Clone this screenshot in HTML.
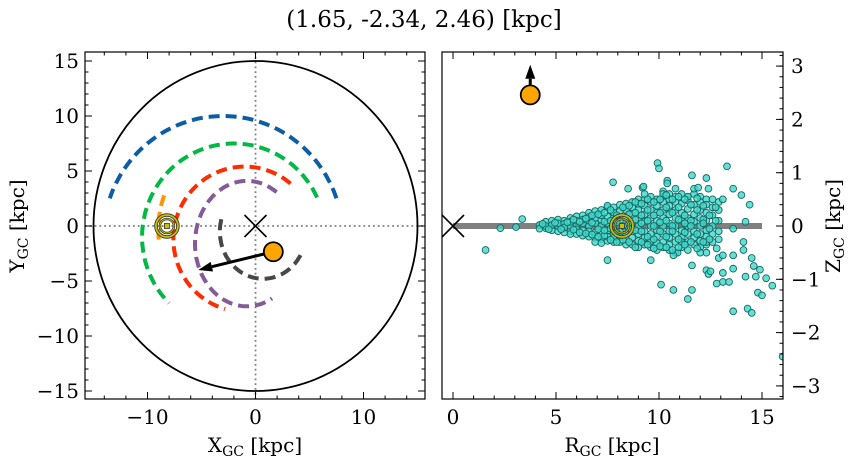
<!DOCTYPE html>
<html><head><meta charset="utf-8"><style>
html,body{margin:0;padding:0;background:#fff;}
svg{display:block;font-family:"DejaVu Serif","Liberation Serif",serif;}
</style></head><body>
<svg id="chart" width="854" height="464" viewBox="0 0 854 464" xmlns="http://www.w3.org/2000/svg">
<text x="424" y="27" font-size="23" text-anchor="middle">(1.65, -2.34, 2.46) [kpc]</text>
</svg>
<script>
// ---- data ----
var xyTicks = [-10, 0, 10];
var yTicksL = [-15, -10, -5, 0, 5, 10, 15];
var rTicks = [0, 5, 10, 15];
var zTicks = [-3, -2, -1, 0, 1, 2, 3];
var diskRadius = 15;
var sunXY = [-8.2, 0];
var objXY = [1.65, -2.34];
var objArrowXY = [-5.3, -4.0];
var objRZ = [3.75, 2.46];
var objArrowRZ = [3.75, 2.95];
var sunRZ = [8.2, 0];
var planeR = [0, 15];
// orbit arcs: cx, cy, rx, ry, startDeg, endDeg
var arcColors = ['#0c5da5', '#00b945', '#ff2c00', '#845b97', '#474747', '#ff9500'];
var arcCx = [-3, -2, -1, -0.8, 0.7, 0];
var arcCy = [-1.1, -1, -1.2, -1.6, -0.5, -0.3];
var arcRx = [11.1, 8.5, 6.6, 4.8, 4.0, 9.0];
var arcRy = [11.1, 8.5, 6.6, 5.7, 4.3, 9.0];
var arcStart = [19, 25, 50, 55, 165, 160];
var arcEnd = [161, 225, 254, 300, 335, 187];
// scatter points R,z
var starsR = "4.2,4.2,4.5,4.5,4.5,4.8,4.8,4.8,5.1,5.1,5.1,5.1,5.4,5.4,5.4,5.4,5.7,5.7,5.7,5.7,5.7,6.0,6.0,6.0,6.0,6.0,6.3,6.3,6.3,6.3,6.3,6.6,6.6,6.6,6.6,6.6,6.6,6.9,6.9,6.9,6.9,6.9,6.9,7.2,7.2,7.2,7.2,7.2,7.2,7.2,7.5,7.5,7.5,7.5,7.5,7.5,7.5,7.8,7.8,7.8,7.8,7.8,7.8,7.8,8.1,8.1,8.1,8.1,8.1,8.1,8.4,8.4,8.4,8.4,8.4,8.4,8.4,8.7,8.7,8.7,8.7,8.7,8.7,8.7,9.0,9.0,9.0,9.0,9.0,9.0,9.0,9.0,9.3,9.3,9.3,9.3,9.3,9.3,9.3,9.3,9.6,9.6,9.6,9.6,9.6,9.6,9.6,9.6,9.9,9.9,9.9,9.9,9.9,9.9,9.9,9.9,10.2,10.2,10.2,10.2,10.2,10.2,10.2,10.2,10.2,10.5,10.5,10.5,10.5,10.5,10.5,10.5,10.5,10.5,10.8,10.8,10.8,10.8,10.8,10.8,10.8,10.8,10.8,11.1,11.1,11.1,11.1,11.1,11.1,11.1,11.1,11.4,11.4,11.4,11.4,11.4,11.4,11.4,11.4,11.7,11.7,11.7,11.7,11.7,11.7,11.7,11.7,12.0,12.0,12.0,12.0,12.0,12.0,12.0,12.0,12.3,12.3,12.3,12.3,12.3,12.3,12.3,12.3,12.6,12.6,12.6,12.6,12.6,12.6,12.9,12.9,12.9,12.9,12.9,1.58,2.3,3.06,3.36,7.77,9.93,10.0,13.3,11.6,12.3,10.4,10.4,8.5,9.2,9.25,10.2,13.6,14.0,14.4,14.2,13.6,7.5,9.6,10.1,10.7,11.6,11.4,11.6,12.3,12.4,12.5,13.1,13.1,13.4,13.6,13.6,13.6,14.1,14.1,14.5,14.6,14.7,14.9,14.2,14.8,15.0,15.2,15.5,14.3,14.5,16.0,12.8,12.9,13.1,12.8,12.3,12.0,10.9,10.7,11.9,12.4,11.4,13.1,4.35,4.65,4.95,5.25,5.55,5.85,5.85,6.15,6.15,6.45,6.45,6.75,6.75,6.75,7.05,7.05,7.05,7.35,7.35,7.35,7.35,7.65,7.65,7.65,7.65,7.95,7.95,7.95,7.95,8.25,8.25,8.25,8.55,8.55,8.55,8.55,8.85,8.85,8.85,8.85,8.85,9.15,9.15,9.15,9.15,9.15,9.45,9.45,9.45,9.45,9.45,9.75,9.75,9.75,9.75,9.75,10.05,10.05,10.05,10.05,10.05,10.35,10.35,10.35,10.35,10.35,10.65,10.65,10.65,10.65,10.65,10.95,10.95,10.95,10.95,10.95,11.25,11.25,11.25,11.25,11.25,11.55,11.55,11.55,11.55,11.85,11.85,11.85,11.85,12.15,12.15,12.15,12.15,12.45,12.45,12.45,12.75,12.75,13.0".split(',').map(Number);
var starsZ = "0.02,-0.05,0.08,-0.04,0.0,0.1,-0.08,0.02,0.12,-0.1,0.0,0.05,0.1,-0.12,0.04,-0.03,0.15,-0.1,0.0,0.08,-0.15,0.18,-0.15,0.03,0.1,-0.06,0.2,-0.18,0.05,-0.08,0.12,0.25,-0.2,0.0,0.1,-0.1,0.17,0.28,-0.22,0.05,-0.12,0.15,-0.3,0.3,-0.25,0.0,0.12,-0.12,0.2,-0.32,0.35,-0.28,0.05,-0.1,0.18,-0.2,0.38,0.35,-0.3,0.0,0.15,-0.15,0.25,-0.22,0.4,-0.3,0.1,-0.1,0.28,-0.2,0.42,-0.35,0.0,0.15,-0.15,0.3,-0.25,0.45,-0.35,0.05,-0.1,0.2,-0.22,0.35,0.5,-0.4,0.0,0.15,-0.15,0.3,-0.28,0.42,0.5,-0.35,0.08,-0.1,0.22,-0.22,0.38,0.6,0.55,-0.4,0.0,0.15,-0.15,0.3,-0.28,0.45,0.5,-0.45,0.1,-0.08,0.25,-0.2,0.38,-0.32,0.55,-0.4,0.0,0.15,-0.15,0.3,-0.3,0.45,0.65,0.6,-0.45,0.05,-0.1,0.22,-0.22,0.38,-0.35,0.5,0.55,-0.5,0.0,0.15,-0.15,0.3,-0.3,0.45,0.7,0.6,-0.4,0.1,-0.08,0.25,-0.22,0.42,-0.3,0.55,-0.45,0.0,0.15,-0.15,0.32,-0.3,0.48,0.6,-0.35,0.08,-0.1,0.22,-0.22,0.4,0.7,0.55,-0.4,0.0,0.15,-0.15,0.3,-0.28,0.45,0.5,-0.5,0.1,-0.08,0.25,-0.2,0.4,-0.35,0.5,-0.3,0.0,0.2,-0.15,0.35,0.45,-0.25,0.1,0.3,-0.1,-0.45,-0.04,-0.02,0.13,0.82,1.18,1.08,1.12,0.95,0.9,0.85,0.8,0.7,0.72,0.74,0.6,0.7,0.58,0.4,0.08,-0.05,-0.64,-0.64,-1.1,-1.2,-1.2,-1.37,-0.74,-0.83,-0.9,-0.85,-0.88,-1.05,-1.05,-1.6,-0.8,-0.55,-0.3,-0.45,-0.6,-0.75,-0.95,-0.82,-0.95,-1.25,-1.3,-0.98,-1.12,-1.55,-1.63,-2.45,-1.08,-0.6,-0.55,-0.42,-0.3,-0.5,-0.5,-0.55,0.72,0.7,0.55,0.5,0.04,-0.06,0.06,-0.06,0.07,-0.07,0.12,-0.12,0.08,0.14,-0.14,0.06,-0.16,0.2,-0.06,0.22,-0.2,0.08,-0.18,0.25,-0.08,0.1,-0.26,0.3,-0.05,0.2,-0.3,0.07,-0.12,0.35,0.0,-0.26,0.22,-0.05,0.38,-0.3,0.12,-0.4,0.25,-0.08,0.45,0.05,-0.3,0.2,0.42,-0.1,0.1,-0.35,0.3,0.5,-0.2,0.0,-0.42,0.2,0.45,-0.25,0.07,-0.38,0.25,0.5,-0.1,0.1,-0.4,0.35,0.58,-0.2,0.0,-0.45,0.25,0.5,-0.1,0.12,-0.4,0.35,0.55,-0.25,0.05,-0.35,0.2,0.5,-0.12,0.1,-0.3,0.4,0.0,-0.42,0.3,0.52,-0.15,0.12,-0.3,0.38,0.05,-0.25,0.2,-0.05,0.35,0.1".split(',').map(Number);

// ---- geometry ----
var NS = 'http://www.w3.org/2000/svg';
var svg = document.getElementById('chart');
var L = {x0:85, x1:425, y0:52, y1:399};
var R = {x0:442, x1:783, y0:52, y1:399};
function lx(v){ return 255.5 + v*10.8; }
function ly(v){ return 226 - v*11.0; }
function rx(v){ return 453 + v*20.6; }
function ry(v){ return 226 - v*53.3; }
function mk(tag, attrs, parent){
  var e = document.createElementNS(NS, tag);
  for (var k in attrs) e.setAttribute(k, attrs[k]);
  (parent||svg).appendChild(e);
  return e;
}
var defs = mk('defs', {});
var cl = mk('clipPath', {id:'clipL'}, defs); mk('rect', {x:L.x0, y:L.y0, width:L.x1-L.x0, height:L.y1-L.y0}, cl);
var cr = mk('clipPath', {id:'clipR'}, defs); mk('rect', {x:R.x0, y:R.y0, width:R.x1-R.x0, height:R.y1-R.y0}, cr);

// ---- left panel ----
var gL = mk('g', {'clip-path':'url(#clipL)'});


var hz = mk('line', {x1:L.x0, x2:L.x1, y1:ly(0), y2:ly(0), stroke:'#808080', 'stroke-width':1.8, 'stroke-dasharray':'1.8,3'}, gL);
 
var vz = mk('line', {x1:lx(0), x2:lx(0), y1:L.y0, y2:L.y1, stroke:'#808080', 'stroke-width':1.8, 'stroke-dasharray':'1.8,3'}, gL);
 
var disk = mk('ellipse', {cx:lx(0), cy:ly(0), rx:diskRadius*10.8, ry:diskRadius*11, fill:'none', stroke:'#000', 'stroke-width':1.8}, gL);
 
for (var i=0;i<arcColors.length;i++){
  var pts=[];
  for (var a=arcStart[i]; a<=arcEnd[i]; a+=2){
    var t=a*Math.PI/180;
    pts.push(lx(arcCx[i]+arcRx[i]*Math.cos(t)).toFixed(1)+','+ly(arcCy[i]+arcRy[i]*Math.sin(t)).toFixed(1));
  }
  var pl = mk('polyline', {points:pts.join(' '), fill:'none', stroke:arcColors[i], 'stroke-width':4, 'stroke-dasharray':'11,6'}, gL);
  
  
}
function cross(x,y,s,parent,name){
  var g = mk('g', {stroke:'#000', 'stroke-width':1.6}, parent);
  
  
  mk('line', {x1:x-s, y1:y-s, x2:x+s, y2:y+s}, g);
  mk('line', {x1:x-s, y1:y+s, x2:x+s, y2:y-s}, g);
}
cross(lx(0), ly(0), 11, gL, 'galactic-center-marker');
function sun(x,y,parent){
  var g = mk('g', {}, parent);
  
  
  mk('circle', {cx:x, cy:y, r:11, fill:'none', stroke:'#333', 'stroke-width':3.5}, g);
  mk('circle', {cx:x, cy:y, r:11, fill:'none', stroke:'#c8c000', 'stroke-width':1.8}, g);
  mk('circle', {cx:x, cy:y, r:7, fill:'none', stroke:'#333', 'stroke-width':2.5}, g);
  mk('circle', {cx:x, cy:y, r:7, fill:'none', stroke:'#c8c000', 'stroke-width':1}, g);
  mk('rect', {x:x-2.5, y:y-2.5, width:5, height:5, fill:'#c8c000', stroke:'#333', 'stroke-width':0.8}, g);
}
sun(lx(sunXY[0]), ly(sunXY[1]), gL);
function arrow(x1,y1,x2,y2,parent,name){
  var g = mk('g', {}, parent);
  
  
  var dx=x2-x1, dy=y2-y1, len=Math.sqrt(dx*dx+dy*dy), ux=dx/len, uy=dy/len;
  var hl=14, hw=5;
  var bx=x2-ux*hl, by=y2-uy*hl;
  mk('line', {x1:x1, y1:y1, x2:bx, y2:by, stroke:'#000', 'stroke-width':3}, g);
  mk('polygon', {points:x2+','+y2+' '+(bx-uy*hw)+','+(by+ux*hw)+' '+(bx+uy*hw)+','+(by-ux*hw), fill:'#000'}, g);
}
arrow(lx(objXY[0]), ly(objXY[1]), lx(objArrowXY[0]), ly(objArrowXY[1]), gL, 'velocity-arrow-xy');
var o1 = mk('circle', {cx:lx(objXY[0]), cy:ly(objXY[1]), r:9.5, fill:'#ffa500', stroke:'#000', 'stroke-width':1.8}, gL);
 

// ---- right panel ----
var gR = mk('g', {'clip-path':'url(#clipR)'});


var plane = mk('line', {x1:rx(planeR[0]), x2:rx(planeR[1]), y1:ry(0), y2:ry(0), stroke:'#808080', 'stroke-width':6}, gR);
 
var gs = mk('g', {}, gR);


for (var j=0;j<starsR.length;j++){
  var c = mk('circle', {cx:rx(starsR[j]), cy:ry(starsZ[j]), r:3.4, fill:'#3fd8cc', 'fill-opacity':0.8, stroke:'#166660', 'stroke-width':0.9}, gs);
  
  
}
cross(rx(0), ry(0), 11, gR, 'galactic-center-marker-rz');
sun(rx(sunRZ[0]), ry(sunRZ[1]), gR);
arrow(rx(objRZ[0]), ry(objRZ[1]), rx(objArrowRZ[0]), ry(objArrowRZ[1])-4, gR, 'velocity-arrow-rz');
var o2 = mk('circle', {cx:rx(objRZ[0]), cy:ry(objRZ[1]), r:9.5, fill:'#ffa500', stroke:'#000', 'stroke-width':1.8}, gR);
 

// ---- frames & ticks ----
function frame(P,name){
  var f = mk('rect', {x:P.x0, y:P.y0, width:P.x1-P.x0, height:P.y1-P.y0, fill:'none', stroke:'#000', 'stroke-width':1.2});
  
  
}
frame(L, 'xy-axes-frame'); frame(R, 'rz-axes-frame');
var tg = mk('g', {stroke:'#000', 'stroke-width':1});


function xt(P, f, lo, hi, step, len){
  for (var v=lo; v<=hi+1e-9; v+=step){
    var x=f(v); if (x<P.x0+0.5||x>P.x1-0.5) continue;
    mk('line', {x1:x, x2:x, y1:P.y1, y2:P.y1-len}, tg);
    mk('line', {x1:x, x2:x, y1:P.y0, y2:P.y0+len}, tg);
  }
}
function yt(P, f, lo, hi, step, len, left, right){
  for (var v=lo; v<=hi+1e-9; v+=step){
    var y=f(v); if (y<P.y0+0.5||y>P.y1-0.5) continue;
    if (left) mk('line', {x1:P.x0, x2:P.x0+len, y1:y, y2:y}, tg);
    if (right) mk('line', {x1:P.x1, x2:P.x1-len, y1:y, y2:y}, tg);
  }
}
xt(L, lx, -16, 16, 2, 3.5); xt(L, lx, -10, 10, 10, 7);
yt(L, ly, -16, 16, 1, 3.5, true, true); yt(L, ly, -15, 15, 5, 7, true, true);
xt(R, rx, 0, 16, 1, 3.5); xt(R, rx, 0, 15, 5, 7);
yt(R, ry, -3.2, 3.2, 0.2, 3.5, false, true); yt(R, ry, -3, 3, 1, 7, false, true);

function lbl(x,y,txt,anchor,name){
  var t = mk('text', {x:x, y:y, 'font-size':20, 'text-anchor':anchor});
  t.textContent = txt;
  
  
}
function fmt(v){ return v<0 ? '\u2212'+(-v) : ''+v; }
xyTicks.forEach(function(v){ lbl(lx(v), 424, fmt(v), 'middle', 'x-tick-label'); });
yTicksL.forEach(function(v){ lbl(79, ly(v)+7, fmt(v), 'end', 'y-tick-label'); });
rTicks.forEach(function(v){ lbl(rx(v), 424, fmt(v), 'middle', 'r-tick-label'); });
zTicks.forEach(function(v){ lbl(791, ry(v)+7, fmt(v), 'start', 'z-tick-label'); });

// axis titles
function title(x,y,main,sub,rot,name){
  var t = mk('text', {x:x, y:y, 'font-size':20, 'text-anchor':'middle'});
  if (rot) t.setAttribute('transform', 'rotate(-90 '+x+' '+y+')');
  
  
  var a = mk('tspan', {}, t); a.textContent = main;
  var b = mk('tspan', {'font-size':14, dy:4}, t); b.textContent = 'GC';
  var c = mk('tspan', {dy:-4}, t); c.textContent = ' [kpc]';
}
title(255, 452, 'X', 'GC', false, 'x-axis-title');
title(612, 452, 'R', 'GC', false, 'r-axis-title');
title(24, 226, 'Y', 'GC', true, 'y-axis-title');
title(840, 226, 'Z', 'GC', true, 'z-axis-title');
</script>
</body></html>
